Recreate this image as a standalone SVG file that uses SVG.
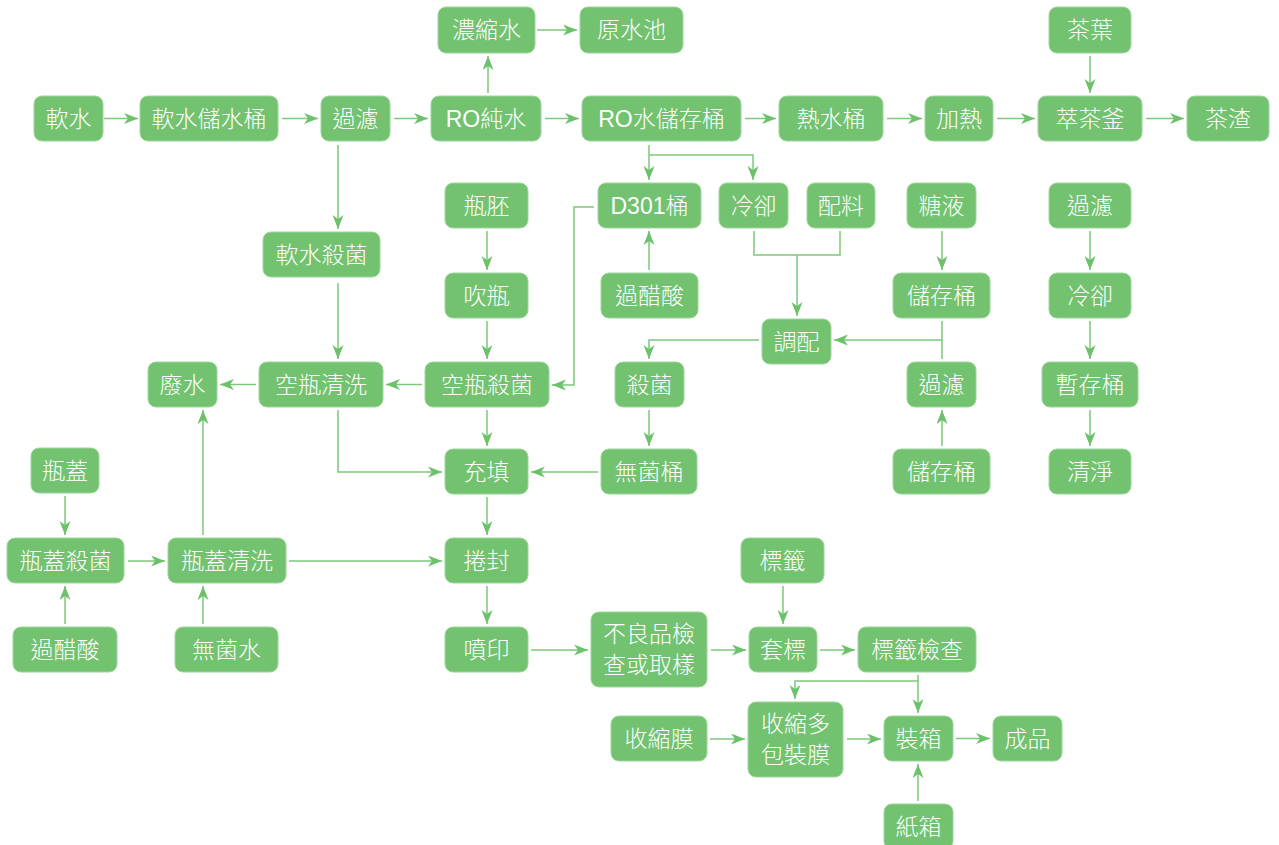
<svg xmlns="http://www.w3.org/2000/svg" width="1279" height="845" viewBox="0 0 1279 845">
<style>
.n rect{fill:#72c270;stroke:#9dd69b;stroke-width:1}
.n text{fill:#ffffff;font-family:"Liberation Sans","Noto Sans CJK TC",sans-serif;font-size:23px;font-weight:300;text-anchor:middle;dominant-baseline:central}
#edges path{fill:none;stroke:#7cc979;stroke-width:1.5}
</style>
<defs>
<marker id="ah" markerUnits="userSpaceOnUse" markerWidth="15" markerHeight="12" refX="14" refY="5.5" orient="auto">
<path d="M0,0 L14,5.5 L0,11 L4,5.5 z" fill="#6cc26a"/>
</marker>
</defs>
<rect width="1279" height="845" fill="#ffffff"/>
<g id="edges">
<path d="M104,118.5 H138" marker-end="url(#ah)"/>
<path d="M282,118.5 H318" marker-end="url(#ah)"/>
<path d="M394,118.5 H428" marker-end="url(#ah)"/>
<path d="M545,118.5 H579" marker-end="url(#ah)"/>
<path d="M745,118.5 H776" marker-end="url(#ah)"/>
<path d="M887,118.5 H922" marker-end="url(#ah)"/>
<path d="M997,118.5 H1035" marker-end="url(#ah)"/>
<path d="M1146,118.5 H1184" marker-end="url(#ah)"/>
<path d="M488,93 V56" marker-end="url(#ah)"/>
<path d="M537,30 H577" marker-end="url(#ah)"/>
<path d="M1090,56 V93" marker-end="url(#ah)"/>
<path d="M338,145 V229" marker-end="url(#ah)"/>
<path d="M649,145 V180" marker-end="url(#ah)"/>
<path d="M649,155 H753 V180" marker-end="url(#ah)"/>
<path d="M594,207 H574 V385 H552" marker-end="url(#ah)"/>
<path d="M754,231 V255 H840 V231"/>
<path d="M797,255 V316" marker-end="url(#ah)"/>
<path d="M649,270 V231" marker-end="url(#ah)"/>
<path d="M487,231 V270" marker-end="url(#ah)"/>
<path d="M487,321 V359" marker-end="url(#ah)"/>
<path d="M942,231 V270" marker-end="url(#ah)"/>
<path d="M1090,231 V270" marker-end="url(#ah)"/>
<path d="M942,321 V359"/>
<path d="M942,340 H834" marker-end="url(#ah)"/>
<path d="M759,340 H649 V359" marker-end="url(#ah)"/>
<path d="M1090,321 V359" marker-end="url(#ah)"/>
<path d="M338,283 V359" marker-end="url(#ah)"/>
<path d="M256,384.5 H220" marker-end="url(#ah)"/>
<path d="M422,384.5 H386" marker-end="url(#ah)"/>
<path d="M338,410 V472 H442" marker-end="url(#ah)"/>
<path d="M487,410 V446" marker-end="url(#ah)"/>
<path d="M649,410 V446" marker-end="url(#ah)"/>
<path d="M598,472 H531" marker-end="url(#ah)"/>
<path d="M942,446 V410" marker-end="url(#ah)"/>
<path d="M1090,410 V446" marker-end="url(#ah)"/>
<path d="M65,496 V535" marker-end="url(#ah)"/>
<path d="M128,561 H165" marker-end="url(#ah)"/>
<path d="M203,535 V410" marker-end="url(#ah)"/>
<path d="M289,561 H442" marker-end="url(#ah)"/>
<path d="M487,497 V535" marker-end="url(#ah)"/>
<path d="M65,624 V586" marker-end="url(#ah)"/>
<path d="M203,624 V586" marker-end="url(#ah)"/>
<path d="M487,586 V624" marker-end="url(#ah)"/>
<path d="M531,650 H588" marker-end="url(#ah)"/>
<path d="M711,650 H746" marker-end="url(#ah)"/>
<path d="M783,586 V624" marker-end="url(#ah)"/>
<path d="M820,650 H855" marker-end="url(#ah)"/>
<path d="M918,675 V713" marker-end="url(#ah)"/>
<path d="M918,681 H795 V699" marker-end="url(#ah)"/>
<path d="M710,739 H745" marker-end="url(#ah)"/>
<path d="M847,739 H881" marker-end="url(#ah)"/>
<path d="M956,738.5 H990" marker-end="url(#ah)"/>
<path d="M918,801 V764" marker-end="url(#ah)"/>
</g>
<g id="n1" class="n"><rect x="34" y="96" width="69" height="45" rx="8"/><text x="68.5" y="118.5">軟水</text></g>
<g id="n2" class="n"><rect x="140" y="96" width="138" height="45" rx="8"/><text x="209" y="118.5">軟水儲水桶</text></g>
<g id="n3" class="n"><rect x="321" y="96" width="69" height="45" rx="8"/><text x="355.5" y="118.5">過濾</text></g>
<g id="n4" class="n"><rect x="431" y="96" width="110" height="45" rx="8"/><text x="486" y="118.5">RO純水</text></g>
<g id="n5" class="n"><rect x="582" y="96" width="159" height="45" rx="8"/><text x="661.5" y="118.5">RO水儲存桶</text></g>
<g id="n6" class="n"><rect x="779" y="96" width="104" height="45" rx="8"/><text x="831" y="118.5">熱水桶</text></g>
<g id="n7" class="n"><rect x="925" y="96" width="68" height="45" rx="8"/><text x="959" y="118.5">加熱</text></g>
<g id="n8" class="n"><rect x="1038" y="96" width="104" height="45" rx="8"/><text x="1090" y="118.5">萃茶釜</text></g>
<g id="n9" class="n"><rect x="1187" y="96" width="82" height="45" rx="8"/><text x="1228" y="118.5">茶渣</text></g>
<g id="n10" class="n"><rect x="438" y="7" width="97" height="46" rx="8"/><text x="486.5" y="30">濃縮水</text></g>
<g id="n11" class="n"><rect x="580" y="7" width="103" height="46" rx="8"/><text x="631.5" y="30">原水池</text></g>
<g id="n12" class="n"><rect x="1049" y="7" width="82" height="46" rx="8"/><text x="1090" y="30">茶葉</text></g>
<g id="n13" class="n"><rect x="263" y="232" width="117" height="45" rx="8"/><text x="321.5" y="254.5">軟水殺菌</text></g>
<g id="n14" class="n"><rect x="445" y="183" width="83" height="45" rx="8"/><text x="486.5" y="205.5">瓶胚</text></g>
<g id="n15" class="n"><rect x="598" y="183" width="103" height="45" rx="8"/><text x="649.5" y="205.5">D301桶</text></g>
<g id="n16" class="n"><rect x="719" y="183" width="69" height="45" rx="8"/><text x="753.5" y="205.5">冷卻</text></g>
<g id="n17" class="n"><rect x="807" y="183" width="68" height="45" rx="8"/><text x="841" y="205.5">配料</text></g>
<g id="n18" class="n"><rect x="907" y="183" width="69" height="45" rx="8"/><text x="941.5" y="205.5">糖液</text></g>
<g id="n19" class="n"><rect x="1049" y="183" width="82" height="45" rx="8"/><text x="1090" y="205.5">過濾</text></g>
<g id="n20" class="n"><rect x="445" y="273" width="83" height="45" rx="8"/><text x="486.5" y="295.5">吹瓶</text></g>
<g id="n21" class="n"><rect x="601" y="273" width="97" height="45" rx="8"/><text x="649.5" y="295.5">過醋酸</text></g>
<g id="n22" class="n"><rect x="893" y="273" width="97" height="45" rx="8"/><text x="941.5" y="295.5">儲存桶</text></g>
<g id="n23" class="n"><rect x="1049" y="273" width="82" height="45" rx="8"/><text x="1090" y="295.5">冷卻</text></g>
<g id="n24" class="n"><rect x="762" y="319" width="69" height="45" rx="8"/><text x="796.5" y="341.5">調配</text></g>
<g id="n25" class="n"><rect x="148" y="362" width="69" height="45" rx="8"/><text x="182.5" y="384.5">廢水</text></g>
<g id="n26" class="n"><rect x="259" y="362" width="124" height="45" rx="8"/><text x="321" y="384.5">空瓶清洗</text></g>
<g id="n27" class="n"><rect x="425" y="362" width="124" height="45" rx="8"/><text x="487" y="384.5">空瓶殺菌</text></g>
<g id="n28" class="n"><rect x="615" y="362" width="69" height="45" rx="8"/><text x="649.5" y="384.5">殺菌</text></g>
<g id="n29" class="n"><rect x="907" y="362" width="69" height="45" rx="8"/><text x="941.5" y="384.5">過濾</text></g>
<g id="n30" class="n"><rect x="1042" y="362" width="96" height="45" rx="8"/><text x="1090" y="384.5">暫存桶</text></g>
<g id="n31" class="n"><rect x="31" y="448" width="68" height="45" rx="8"/><text x="65" y="470.5">瓶蓋</text></g>
<g id="n32" class="n"><rect x="445" y="449" width="83" height="45" rx="8"/><text x="486.5" y="471.5">充填</text></g>
<g id="n33" class="n"><rect x="601" y="449" width="96" height="45" rx="8"/><text x="649" y="471.5">無菌桶</text></g>
<g id="n34" class="n"><rect x="893" y="449" width="97" height="45" rx="8"/><text x="941.5" y="471.5">儲存桶</text></g>
<g id="n35" class="n"><rect x="1049" y="449" width="82" height="45" rx="8"/><text x="1090" y="471.5">清淨</text></g>
<g id="n36" class="n"><rect x="7" y="538" width="117" height="45" rx="8"/><text x="65.5" y="560.5">瓶蓋殺菌</text></g>
<g id="n37" class="n"><rect x="168" y="538" width="118" height="45" rx="8"/><text x="227" y="560.5">瓶蓋清洗</text></g>
<g id="n38" class="n"><rect x="445" y="538" width="83" height="45" rx="8"/><text x="486.5" y="560.5">捲封</text></g>
<g id="n39" class="n"><rect x="741" y="538" width="83" height="45" rx="8"/><text x="782.5" y="560.5">標籤</text></g>
<g id="n40" class="n"><rect x="13" y="627" width="104" height="45" rx="8"/><text x="65" y="649.5">過醋酸</text></g>
<g id="n41" class="n"><rect x="175" y="627" width="103" height="45" rx="8"/><text x="226.5" y="649.5">無菌水</text></g>
<g id="n42" class="n"><rect x="445" y="627" width="83" height="45" rx="8"/><text x="486.5" y="649.5">噴印</text></g>
<g id="n43" class="n"><rect x="591" y="612" width="116" height="75" rx="8"/><text x="649" y="634">不良品檢</text><text x="649" y="665">查或取樣</text></g>
<g id="n44" class="n"><rect x="749" y="627" width="68" height="45" rx="8"/><text x="783" y="649.5">套標</text></g>
<g id="n45" class="n"><rect x="858" y="627" width="118" height="45" rx="8"/><text x="917" y="649.5">標籤檢查</text></g>
<g id="n46" class="n"><rect x="611" y="716" width="96" height="45" rx="8"/><text x="659" y="738.5">收縮膜</text></g>
<g id="n47" class="n"><rect x="748" y="702" width="95" height="75" rx="8"/><text x="795.5" y="724">收縮多</text><text x="795.5" y="755">包裝膜</text></g>
<g id="n48" class="n"><rect x="884" y="716" width="69" height="45" rx="8"/><text x="918.5" y="738.5">裝箱</text></g>
<g id="n49" class="n"><rect x="993" y="716" width="69" height="45" rx="8"/><text x="1027.5" y="738.5">成品</text></g>
<g id="n50" class="n"><rect x="884" y="804" width="69" height="45" rx="8"/><text x="918.5" y="826.5">紙箱</text></g>
</svg>
